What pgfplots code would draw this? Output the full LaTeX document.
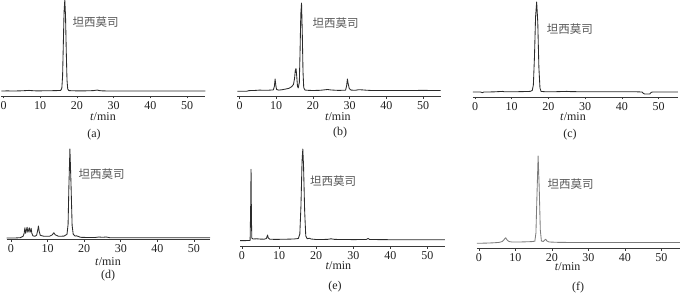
\documentclass[border=0pt]{standalone}
\usepackage{fontspec}
\setmainfont{Liberation Serif}
\newfontfamily\cjk{Noto Sans CJK SC}
\usepackage{pgfplots}
\pgfplotsset{compat=1.18}
\definecolor{ln}{HTML}{2B2B2B}
\definecolor{lnf}{HTML}{7C7C7C}
\definecolor{ax}{HTML}{3A3A3A}
\definecolor{txt}{HTML}{222222}
\definecolor{cj}{HTML}{555555}
\pgfplotsset{chrom/.style={
  y=1pt, ymin=0, clip=false,
  axis x line=bottom, axis y line=none, ytick=\empty,
  axis line style={-, color=ax, line width=0.7pt},
  xtick={0,10,20,30,40,50}, tick align=outside, major tick length=2.5pt,
  tick style={color=ax, line width=0.6pt},
  xticklabel style={font=\fontsize{12}{12}\selectfont, anchor=base, yshift=-11pt, text=txt},
  /pgf/number format/assume math mode=true,
  anchor=south west,
}}
\pgfplotsset{trace/.style={color=ln, line width=0.85pt, line join=round, no markers}}
\newcommand{\tmin}[2]{\node[anchor=base, font=\fontsize{12}{12}\selectfont, text=txt, yshift=-#2] at (axis cs:#1,0) {\textit{t}/min};}
\begin{document}
\begin{tikzpicture}
\useasboundingbox (0,0) rectangle (680pt,295pt);
% (a)
\begin{axis}[chrom, at={(1.3pt,199pt)}, x=3.67pt, xmin=-0.6, xmax=55.0, ymax=96]
\addplot[trace] coordinates {(-0.6,5.0) (1,5.1) (3,5.0) (5,5.2) (7,5.6) (7.6,5.4) (9,5.1) (11,5.2) (13,5.3) (14.5,5.4) (15.6,5.6) (15.9,8) (16.1,20) (16.3,52) (16.5,84) (16.7,96) (16.9,80) (17.1,45) (17.3,16) (17.5,7) (17.8,5.4) (19,5.2) (21,5.1) (23,5.2) (24.5,5.4) (25.5,5.9) (26.2,5.4) (27,5.1) (30,5.0) (35,5.0) (40,5.0) (45,5.0) (50,5.0) (55,5.0)};
\tmin{27.1}{24pt}
\end{axis}
% (b)
\begin{axis}[chrom, at={(237.3pt,198.5pt)}, x=3.67pt, xmin=-0.6, xmax=54.8, ymax=93.5]
\addplot[trace] coordinates {(-0.6,5.2) (1,5.2) (2,5.3) (2.6,5.9) (4,6.0) (5.5,6.4) (6.5,6.2) (8,6.3) (9.2,6.6) (9.5,10) (9.7,17.5) (9.9,11) (10.1,7) (10.7,6.4) (11.5,6.7) (12.5,7.4) (13.5,8.2) (14.2,9.8) (14.7,12) (15.0,18) (15.2,26) (15.4,28) (15.6,20) (15.8,10) (16.0,8.5) (16.3,14) (16.5,45) (16.7,82) (16.9,93.5) (17.1,65) (17.3,25) (17.5,9) (17.8,6.5) (18.5,6.2) (20,6.0) (22,6.2) (24,7.0) (25,6.5) (27,6.1) (28.9,6.3) (29.2,11) (29.4,17.5) (29.6,13) (29.9,8) (30.4,6.4) (31.5,6.2) (32.5,6.8) (33.5,6.6) (34.5,6.3) (36,6.0) (40,6.0) (45,6.0) (50,6.1) (54.8,6.0)};
\tmin{26.8}{23.5pt}
\end{axis}
% (c)
\begin{axis}[chrom, at={(472.8pt,198pt)}, x=3.67pt, xmin=-0.6, xmax=55.3, ymax=95]
\addplot[trace] coordinates {(-0.6,5.0) (1.5,5.0) (2.0,4.3) (2.4,5.0) (5,5.1) (7.5,5.6) (8,5.2) (10,5.2) (13,5.4) (15,5.6) (15.6,6.5) (15.9,12) (16.2,40) (16.5,80) (16.8,95) (17.1,75) (17.4,30) (17.7,9) (18.0,5.6) (19,5.3) (21,5.2) (25,5.6) (26,5.4) (30,5.2) (35,5.2) (40,5.3) (44,5.2) (45.5,5.0) (45.9,3.6) (46.2,3.0) (47.6,3.0) (48.0,4.6) (48.4,5.0) (50,5.0) (55.3,5.0)};
\tmin{26.7}{24pt}
\end{axis}
% (d)
\begin{axis}[chrom, at={(6.6pt,55.7pt)}, x=3.66pt, xmin=-1.2, xmax=54.4, ymax=90.3]
\addplot[trace] coordinates {(-1.2,1.3) (1,1.3) (2.5,1.6) (3.3,3) (3.6,6) (3.8,11.5) (4.0,6) (4.2,9) (4.4,12) (4.6,7) (4.8,9) (5.0,11.5) (5.2,7) (5.4,9) (5.5,11) (5.7,6) (6.0,3.5) (6.5,3) (7.0,4) (7.3,9) (7.5,13.3) (7.7,8) (8.0,4) (9,3) (10.5,3) (11.3,4.5) (11.7,6.6) (12.1,4.5) (13,3) (14.5,3.2) (15.3,5) (15.6,15) (15.8,50) (16.1,90.3) (16.4,55) (16.7,14) (17.0,5) (17.5,3.2) (17.9,3.5) (18.3,3.0) (19,2.0) (21,1.8) (23,1.8) (24,2.3) (25,2.0) (26,2.3) (27,1.6) (30,1.5) (40,1.5) (54.4,1.5)};
\tmin{26.5}{26pt}
\end{axis}
% (e)
\begin{axis}[chrom, at={(240.1pt,49pt)}, x=3.71pt, xmin=-0.5, xmax=54.7, ymax=97]
\addplot[trace] coordinates {(-0.5,5.4) (1,5.4) (2.2,5.6) (2.35,40) (2.45,76.7) (2.55,30) (2.65,8) (3,7) (4,7.2) (5,6.9) (6,6.8) (6.6,7.5) (6.9,11) (7.1,8) (7.5,6.8) (9,6.6) (12,6.8) (14,7.0) (15.2,7.5) (15.6,12) (15.9,40) (16.2,85) (16.4,97) (16.6,80) (16.9,35) (17.2,10) (17.6,7.2) (18.2,7.8) (18.6,7.0) (20,6.5) (23,6.6) (24,7.2) (25,6.6) (30,6.4) (33.5,6.5) (34,7.6) (34.4,6.5) (40,6.3) (50,6.2) (54.7,6.2)};
\tmin{26}{23.5pt}
\end{axis}
% (f)
\begin{axis}[chrom, at={(476.8pt,47pt)}, x=3.65pt, xmin=-0.6, xmax=55, ymax=92]
\addplot[trace, color=lnf] coordinates {(-0.6,4.7) (2,4.9) (4,5.2) (5.5,5.6) (6.4,6.5) (6.9,8.5) (7.3,10.3) (7.7,8) (8.2,6.5) (9,6.0) (11,6.0) (13,6.2) (14.5,6.4) (15.3,6.8) (15.6,15) (15.9,55) (16.2,92) (16.5,60) (16.8,18) (17.1,7) (17.6,6.5) (18.0,8) (18.3,8.7) (18.6,7) (19.2,6) (22,5.6) (30,5.5) (40,5.5) (55,5.5)};
\tmin{24.3}{22.5pt}
\end{axis}
% compound labels
\begin{scope}[every node/.style={anchor=west, inner sep=0pt, font=\cjk\fontsize{11.5}{11.5}\selectfont, text=cj}]
\node at (72.5pt,273.3pt) {坦西莫司};
\node at (312.3pt,272.2pt) {坦西莫司};
\node at (546.7pt,266.3pt) {坦西莫司};
\node at (78.3pt,121.2pt) {坦西莫司};
\node at (310pt,114pt) {坦西莫司};
\node at (547.3pt,110.7pt) {坦西莫司};
\end{scope}
% panel labels
\begin{scope}[every node/.style={inner sep=0pt, font=\fontsize{12}{12}\selectfont, text=txt}]
\node at (94pt,160pt) {(a)};
\node at (340pt,162.5pt) {(b)};
\node at (570pt,160pt) {(c)};
\node at (108pt,19pt) {(d)};
\node at (335pt,8.3pt) {(e)};
\node at (578pt,7pt) {(f)};
\end{scope}
\end{tikzpicture}
\end{document}
